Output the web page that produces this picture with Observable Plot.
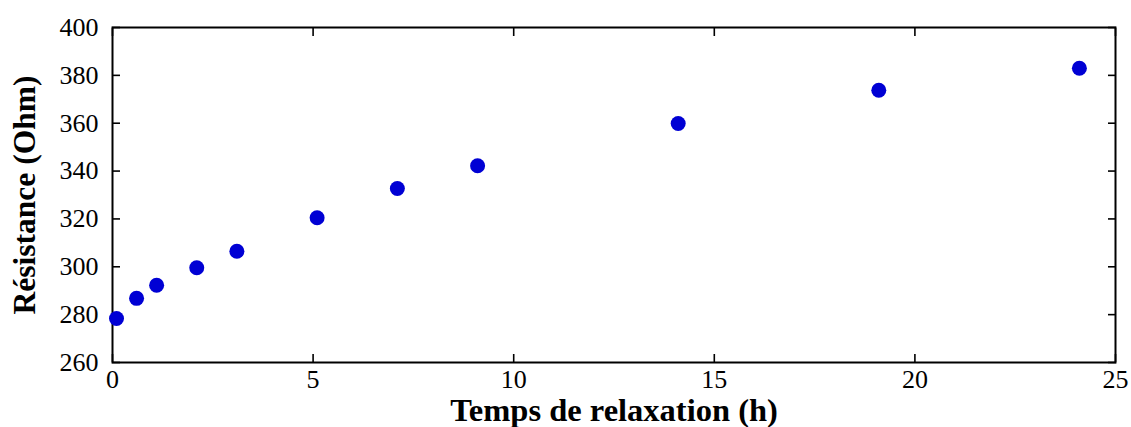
<!DOCTYPE html>
<html><head><meta charset="utf-8">
<script src="https://cdn.jsdelivr.net/npm/d3@7"></script>
<script src="https://cdn.jsdelivr.net/npm/@observablehq/plot@0.6"></script>
<style>
body{margin:0;background:#fff}
#chart svg{font-family:"Liberation Serif","Times New Roman",serif}
g[aria-label="x-axis label"] text{font-weight:bold;font-size:32.5px}
g[aria-label="y-axis label"] text{font-weight:bold;font-size:31.5px}
</style></head><body><div id="chart"></div>
<script>
const time = [0.1, 0.6, 1.1, 2.1, 3.1, 5.1, 7.1, 9.1, 14.1, 19.1, 24.1];
const resistance = [278.4, 286.8, 292.3, 299.6, 306.5, 320.5, 332.7, 342.2, 359.9, 373.8, 383.0];
const xTicks = [0, 5, 10, 15, 20, 25];
const yTicks = [260, 280, 300, 320, 340, 360, 380, 400];
const xLabel = "Temps de relaxation (h)";
const yLabel = "Résistance (Ohm)";
const data = time.map((t, i) => ({t, r: resistance[i]}));

const chart = Plot.plot({
  width: 1131, height: 427,
  marginTop: 27, marginRight: 16, marginBottom: 65, marginLeft: 112,
  style: {fontFamily: '"Liberation Serif","Times New Roman",serif', fontSize: "26px", color: "#000", background: "#fff"},
  x: {domain: [0, 25]},
  y: {domain: [260, 400]},
  marks: [
    Plot.axisX(xTicks, {anchor: "bottom", tickSize: 0, tickPadding: 7, fontSize: 26, label: xLabel, labelArrow: "none", labelAnchor: "center", labelOffset: 58}),
    Plot.axisX(xTicks, {anchor: "bottom", tickSize: 8, dy: -8, fill: "none", label: null, strokeWidth: 1.6}),
    Plot.axisX(xTicks, {anchor: "top", tickSize: 8, dy: 8, fill: "none", label: null, strokeWidth: 1.6}),
    Plot.axisY(yTicks, {anchor: "left", tickSize: 0, tickPadding: 14, fontSize: 26, label: yLabel, labelArrow: "none", labelAnchor: "center", labelOffset: 100}),
    Plot.axisY(yTicks, {anchor: "left", tickSize: 8, dx: 8, fill: "none", label: null, strokeWidth: 1.6}),
    Plot.axisY(yTicks, {anchor: "right", tickSize: 8, dx: -8, fill: "none", label: null, strokeWidth: 1.6}),
    Plot.frame({stroke: "#000", strokeWidth: 2}),
    Plot.dot(data, {x: "t", y: "r", r: 7.5, fill: "#0000d4", stroke: "none"})
  ]
});
document.getElementById("chart").append(chart);
</script></body></html>
